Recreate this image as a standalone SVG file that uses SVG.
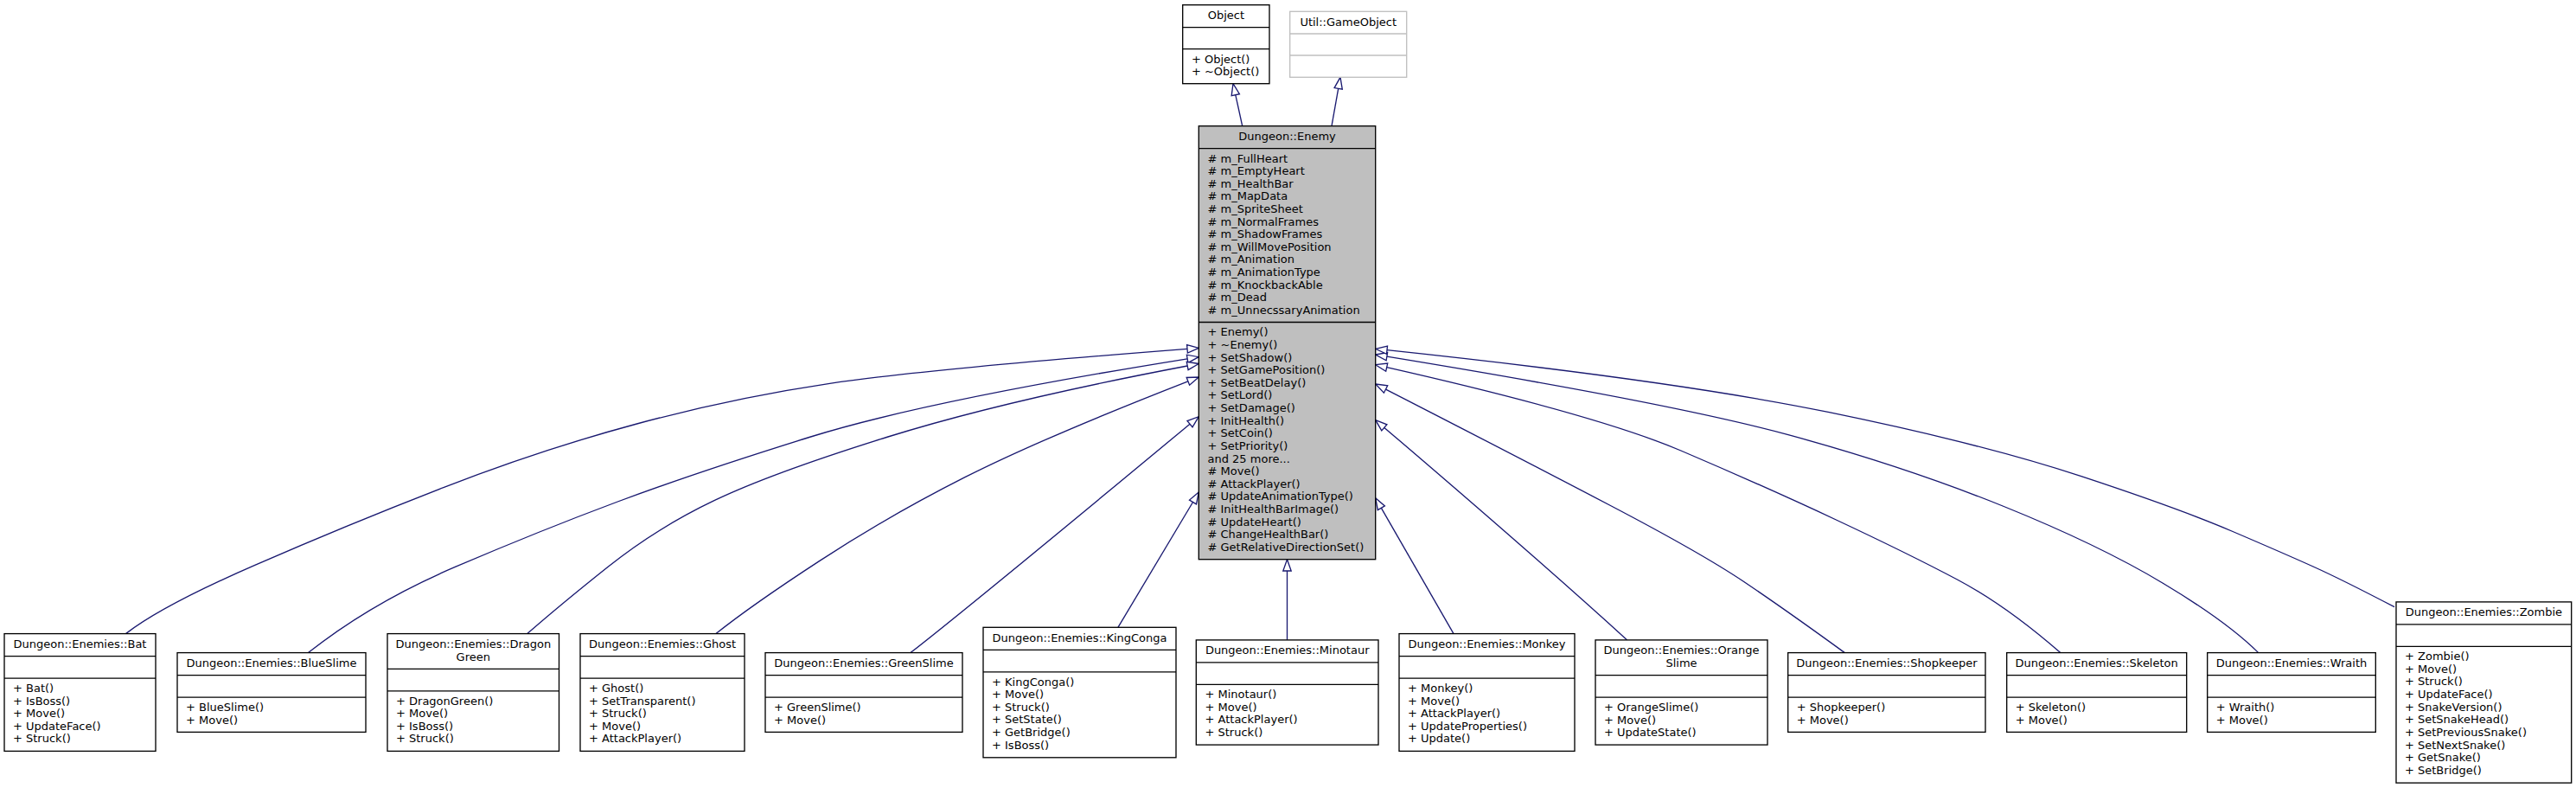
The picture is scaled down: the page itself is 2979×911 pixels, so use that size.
<svg xmlns="http://www.w3.org/2000/svg" width="2979" height="911" viewBox="0 0 2979 911">
<style>
.n{fill:#fff;stroke:#000;stroke-width:1.33}
.g{fill:#bfbfbf;stroke:#000;stroke-width:1.33}
.u{fill:#fff;stroke:#bfbfbf;stroke-width:1.33}
.d{stroke:#000;stroke-width:1.33}
.du{stroke:#bfbfbf;stroke-width:1.33}
.e{fill:none;stroke:#191970;stroke-width:1.33}
.ah{fill:#fff;stroke:#191970;stroke-width:1.33}
text{font-family:"DejaVu Sans","Liberation Sans",sans-serif;font-size:13px;fill:#000}
.c{text-anchor:middle}
</style>
<rect width="2979" height="911" fill="#fff"/>

<g id="connectors">
<path class="e" d="M1436.7,145.7 L1428.8,109.7"/>
<polygon class="ah" points="1426,96.7 1433.4,108.7 1424.2,110.7"/>
<path class="e" d="M1540,145.7 L1547.7,102.4"/>
<polygon class="ah" points="1550,89.3 1552.3,103.2 1543.1,101.6"/>

<path class="e" d="M145.5,732.6 Q187.5,700 294.8,653.4 Q402,606.7 513.5,563.4 Q625,520 736.5,490 Q848,460 959.5,443.4 Q1071,426.7 1373,403.3"/>
<polygon class="ah" points="1386.3,402.3 1373.4,408 1372.6,398.6"/>
<path class="e" d="M356.5,754.6 Q429,697 527,655.2 Q625,613.3 714.3,580 Q803.6,546.7 937.5,505 Q1071.4,463.3 1373.1,414.8"/>
<polygon class="ah" points="1386.3,412.7 1373.9,419.4 1372.4,410.2"/>
<path class="e" d="M609.8,732.6 Q647,700 703.5,655 Q760,610 826.5,578.4 Q893,546.7 1026.9,505 Q1160.7,463.3 1373.2,423"/>
<polygon class="ah" points="1386.3,420.5 1374.1,427.6 1372.3,418.4"/>
<path class="e" d="M828,732.6 Q868.8,700 947.9,648.4 Q1027,596.7 1116,551.7 Q1205,506.7 1373.9,440.8"/>
<polygon class="ah" points="1386.3,436 1375.6,445.2 1372.2,436.5"/>
<path class="e" d="M1053,754.6 Q1123.2,700 1376,490.2"/>
<polygon class="ah" points="1386.3,481.7 1379,493.8 1373,486.6"/>
<path class="e" d="M1292.9,725.3 L1379.5,580.5"/>
<polygon class="ah" points="1386.3,569 1383.5,582.9 1375.5,578.1"/>
<path class="e" d="M1488.5,739.9 L1488.5,660"/>
<polygon class="ah" points="1488.5,646.7 1493.2,660 1483.8,660"/>
<path class="e" d="M1681,732.6 L1597.4,587.3"/>
<polygon class="ah" points="1590.7,575.7 1601.4,584.9 1593.3,589.6"/>
<path class="e" d="M1881.7,739.9 Q1771.7,640 1600.9,494.4"/>
<polygon class="ah" points="1590.7,485.7 1603.9,490.8 1597.8,497.9"/>
<path class="e" d="M2133.3,754.6 Q2065,705 2016.7,672.5 Q1968.3,640 1863.4,585 Q1758.4,530 1602.6,450.1"/>
<polygon class="ah" points="1590.7,444 1604.7,445.9 1600.4,454.2"/>
<path class="e" d="M2382.7,754.6 Q2320,700 2263.4,670 Q2206.7,640 2123.4,601 Q2040,562 1943.9,521 Q1847.7,480 1603.7,424.7"/>
<polygon class="ah" points="1590.7,421.7 1604.7,420.1 1602.7,429.2"/>
<path class="e" d="M2611.7,754.6 Q2575,718.3 2501.3,674.2 Q2427.6,630 2316.1,585 Q2204.6,540 2070.8,503.4 Q1937,466.7 1603.9,412.2"/>
<polygon class="ah" points="1590.7,410 1604.6,407.5 1603.1,416.8"/>
<path class="e" d="M2769,701.7 Q2708.3,670 2675,655 Q2641.7,640 2580.9,614 Q2520,588 2406.9,550.7 Q2293.8,513.3 2115.4,476.7 Q1937,440 1604,404.7"/>
<polygon class="ah" points="1590.7,403.3 1604.5,400.1 1603.5,409.3"/>
</g>

<g id="node-object">
<rect class="n" x="1367.7" y="5.7" width="100.3" height="91"/>
<line class="d" x1="1367.7" y1="31.7" x2="1468" y2="31.7"/>
<line class="d" x1="1367.7" y1="56.7" x2="1468" y2="56.7"/>
<text class="c" x="1417.9" y="22.2">Object</text>
<text x="1377.9" y="72.5">+ Object()<tspan x="1377.9" dy="14.62">+ ~Object()</tspan></text>
</g>

<g id="node-gameobject">
<rect class="u" x="1491.7" y="13.3" width="135" height="76"/>
<line class="du" x1="1491.7" y1="39" x2="1626.7" y2="39"/>
<line class="du" x1="1491.7" y1="64" x2="1626.7" y2="64"/>
<text class="c" x="1559.2" y="29.8">Util::GameObject</text>
</g>

<g id="node-enemy">
<rect class="g" x="1386.3" y="145.7" width="204.4" height="501"/>
<line class="d" x1="1386.3" y1="171.7" x2="1590.7" y2="171.7"/>
<line class="d" x1="1386.3" y1="372.5" x2="1590.7" y2="372.5"/>
<text class="c" x="1488.5" y="162.2">Dungeon::Enemy</text>
<text x="1396.5" y="187.5"># m_FullHeart<tspan x="1396.5" dy="14.62"># m_EmptyHeart</tspan><tspan x="1396.5" dy="14.62"># m_HealthBar</tspan><tspan x="1396.5" dy="14.62"># m_MapData</tspan><tspan x="1396.5" dy="14.62"># m_SpriteSheet</tspan><tspan x="1396.5" dy="14.62"># m_NormalFrames</tspan><tspan x="1396.5" dy="14.62"># m_ShadowFrames</tspan><tspan x="1396.5" dy="14.62"># m_WillMovePosition</tspan><tspan x="1396.5" dy="14.62"># m_Animation</tspan><tspan x="1396.5" dy="14.62"># m_AnimationType</tspan><tspan x="1396.5" dy="14.62"># m_KnockbackAble</tspan><tspan x="1396.5" dy="14.62"># m_Dead</tspan><tspan x="1396.5" dy="14.62"># m_UnnecssaryAnimation</tspan></text>
<text x="1396.5" y="388.3">+ Enemy()<tspan x="1396.5" dy="14.62">+ ~Enemy()</tspan><tspan x="1396.5" dy="14.62">+ SetShadow()</tspan><tspan x="1396.5" dy="14.62">+ SetGamePosition()</tspan><tspan x="1396.5" dy="14.62">+ SetBeatDelay()</tspan><tspan x="1396.5" dy="14.62">+ SetLord()</tspan><tspan x="1396.5" dy="14.62">+ SetDamage()</tspan><tspan x="1396.5" dy="14.62">+ InitHealth()</tspan><tspan x="1396.5" dy="14.62">+ SetCoin()</tspan><tspan x="1396.5" dy="14.62">+ SetPriority()</tspan><tspan x="1396.5" dy="14.62">and 25 more...</tspan><tspan x="1396.5" dy="14.62"># Move()</tspan><tspan x="1396.5" dy="14.62"># AttackPlayer()</tspan><tspan x="1396.5" dy="14.62"># UpdateAnimationType()</tspan><tspan x="1396.5" dy="14.62"># InitHealthBarImage()</tspan><tspan x="1396.5" dy="14.62"># UpdateHeart()</tspan><tspan x="1396.5" dy="14.62"># ChangeHealthBar()</tspan><tspan x="1396.5" dy="14.62"># GetRelativeDirectionSet()</tspan></text>
</g>

<g id="node-bat">
<rect class="n" x="5" y="732.6" width="175" height="135.8"/>
<line class="d" x1="5" y1="758.6" x2="180" y2="758.6"/>
<line class="d" x1="5" y1="784.1" x2="180" y2="784.1"/>
<text class="c" x="92.5" y="749.1">Dungeon::Enemies::Bat</text>
<text x="15" y="799.9">+ Bat()<tspan x="15" dy="14.62">+ IsBoss()</tspan><tspan x="15" dy="14.62">+ Move()</tspan><tspan x="15" dy="14.62">+ UpdateFace()</tspan><tspan x="15" dy="14.62">+ Struck()</tspan></text>
</g>

<g id="node-blueslime">
<rect class="n" x="205" y="754.6" width="218" height="91.8"/>
<line class="d" x1="205" y1="780.6" x2="423" y2="780.6"/>
<line class="d" x1="205" y1="806.1" x2="423" y2="806.1"/>
<text class="c" x="314" y="771.1">Dungeon::Enemies::BlueSlime</text>
<text x="215" y="821.9">+ BlueSlime()<tspan x="215" dy="14.62">+ Move()</tspan></text>
</g>

<g id="node-dragongreen">
<rect class="n" x="448" y="732.6" width="198.5" height="135.8"/>
<line class="d" x1="448" y1="773.3" x2="646.5" y2="773.3"/>
<line class="d" x1="448" y1="798.8" x2="646.5" y2="798.8"/>
<text class="c" x="547.3" y="749.1">Dungeon::Enemies::Dragon<tspan x="547.3" dy="14.5">Green</tspan></text>
<text x="458" y="814.6">+ DragonGreen()<tspan x="458" dy="14.62">+ Move()</tspan><tspan x="458" dy="14.62">+ IsBoss()</tspan><tspan x="458" dy="14.62">+ Struck()</tspan></text>
</g>

<g id="node-ghost">
<rect class="n" x="671" y="732.6" width="190" height="135.8"/>
<line class="d" x1="671" y1="758.6" x2="861" y2="758.6"/>
<line class="d" x1="671" y1="784.1" x2="861" y2="784.1"/>
<text class="c" x="766" y="749.1">Dungeon::Enemies::Ghost</text>
<text x="681" y="799.9">+ Ghost()<tspan x="681" dy="14.62">+ SetTransparent()</tspan><tspan x="681" dy="14.62">+ Struck()</tspan><tspan x="681" dy="14.62">+ Move()</tspan><tspan x="681" dy="14.62">+ AttackPlayer()</tspan></text>
</g>

<g id="node-greenslime">
<rect class="n" x="885" y="754.6" width="228" height="91.8"/>
<line class="d" x1="885" y1="780.6" x2="1113" y2="780.6"/>
<line class="d" x1="885" y1="806.1" x2="1113" y2="806.1"/>
<text class="c" x="999" y="771.1">Dungeon::Enemies::GreenSlime</text>
<text x="895" y="821.9">+ GreenSlime()<tspan x="895" dy="14.62">+ Move()</tspan></text>
</g>

<g id="node-kingconga">
<rect class="n" x="1137" y="725.3" width="223" height="150.5"/>
<line class="d" x1="1137" y1="751.3" x2="1360" y2="751.3"/>
<line class="d" x1="1137" y1="776.8" x2="1360" y2="776.8"/>
<text class="c" x="1248.5" y="741.8">Dungeon::Enemies::KingConga</text>
<text x="1147" y="792.6">+ KingConga()<tspan x="1147" dy="14.62">+ Move()</tspan><tspan x="1147" dy="14.62">+ Struck()</tspan><tspan x="1147" dy="14.62">+ SetState()</tspan><tspan x="1147" dy="14.62">+ GetBridge()</tspan><tspan x="1147" dy="14.62">+ IsBoss()</tspan></text>
</g>

<g id="node-minotaur">
<rect class="n" x="1383.3" y="739.9" width="210.7" height="121.2"/>
<line class="d" x1="1383.3" y1="765.9" x2="1594" y2="765.9"/>
<line class="d" x1="1383.3" y1="791.4" x2="1594" y2="791.4"/>
<text class="c" x="1488.7" y="756.4">Dungeon::Enemies::Minotaur</text>
<text x="1393.5" y="807.2">+ Minotaur()<tspan x="1393.5" dy="14.62">+ Move()</tspan><tspan x="1393.5" dy="14.62">+ AttackPlayer()</tspan><tspan x="1393.5" dy="14.62">+ Struck()</tspan></text>
</g>

<g id="node-monkey">
<rect class="n" x="1618" y="732.6" width="203" height="135.8"/>
<line class="d" x1="1618" y1="758.6" x2="1821" y2="758.6"/>
<line class="d" x1="1618" y1="784.1" x2="1821" y2="784.1"/>
<text class="c" x="1719.5" y="749.1">Dungeon::Enemies::Monkey</text>
<text x="1628" y="799.9">+ Monkey()<tspan x="1628" dy="14.62">+ Move()</tspan><tspan x="1628" dy="14.62">+ AttackPlayer()</tspan><tspan x="1628" dy="14.62">+ UpdateProperties()</tspan><tspan x="1628" dy="14.62">+ Update()</tspan></text>
</g>

<g id="node-orangeslime">
<rect class="n" x="1845" y="739.9" width="199" height="121.2"/>
<line class="d" x1="1845" y1="780.6" x2="2044" y2="780.6"/>
<line class="d" x1="1845" y1="806.1" x2="2044" y2="806.1"/>
<text class="c" x="1944.5" y="756.4">Dungeon::Enemies::Orange<tspan x="1944.5" dy="14.5">Slime</tspan></text>
<text x="1855" y="821.9">+ OrangeSlime()<tspan x="1855" dy="14.62">+ Move()</tspan><tspan x="1855" dy="14.62">+ UpdateState()</tspan></text>
</g>

<g id="node-shopkeeper">
<rect class="n" x="2067.7" y="754.6" width="228.3" height="91.8"/>
<line class="d" x1="2067.7" y1="780.6" x2="2296" y2="780.6"/>
<line class="d" x1="2067.7" y1="806.1" x2="2296" y2="806.1"/>
<text class="c" x="2181.9" y="771.1">Dungeon::Enemies::Shopkeeper</text>
<text x="2077.7" y="821.9">+ Shopkeeper()<tspan x="2077.7" dy="14.62">+ Move()</tspan></text>
</g>

<g id="node-skeleton">
<rect class="n" x="2320.7" y="754.6" width="208" height="91.8"/>
<line class="d" x1="2320.7" y1="780.6" x2="2528.7" y2="780.6"/>
<line class="d" x1="2320.7" y1="806.1" x2="2528.7" y2="806.1"/>
<text class="c" x="2424.7" y="771.1">Dungeon::Enemies::Skeleton</text>
<text x="2330.7" y="821.9">+ Skeleton()<tspan x="2330.7" dy="14.62">+ Move()</tspan></text>
</g>

<g id="node-wraith">
<rect class="n" x="2552.7" y="754.6" width="194.6" height="91.8"/>
<line class="d" x1="2552.7" y1="780.6" x2="2747.3" y2="780.6"/>
<line class="d" x1="2552.7" y1="806.1" x2="2747.3" y2="806.1"/>
<text class="c" x="2650" y="771.1">Dungeon::Enemies::Wraith</text>
<text x="2562.7" y="821.9">+ Wraith()<tspan x="2562.7" dy="14.62">+ Move()</tspan></text>
</g>

<g id="node-zombie">
<rect class="n" x="2771" y="695.9" width="202.7" height="209.2"/>
<line class="d" x1="2771" y1="721.9" x2="2973.7" y2="721.9"/>
<line class="d" x1="2771" y1="747.4" x2="2973.7" y2="747.4"/>
<text class="c" x="2872.4" y="712.4">Dungeon::Enemies::Zombie</text>
<text x="2781" y="763.2">+ Zombie()<tspan x="2781" dy="14.62">+ Move()</tspan><tspan x="2781" dy="14.62">+ Struck()</tspan><tspan x="2781" dy="14.62">+ UpdateFace()</tspan><tspan x="2781" dy="14.62">+ SnakeVersion()</tspan><tspan x="2781" dy="14.62">+ SetSnakeHead()</tspan><tspan x="2781" dy="14.62">+ SetPreviousSnake()</tspan><tspan x="2781" dy="14.62">+ SetNextSnake()</tspan><tspan x="2781" dy="14.62">+ GetSnake()</tspan><tspan x="2781" dy="14.62">+ SetBridge()</tspan></text>
</g>
</svg>
